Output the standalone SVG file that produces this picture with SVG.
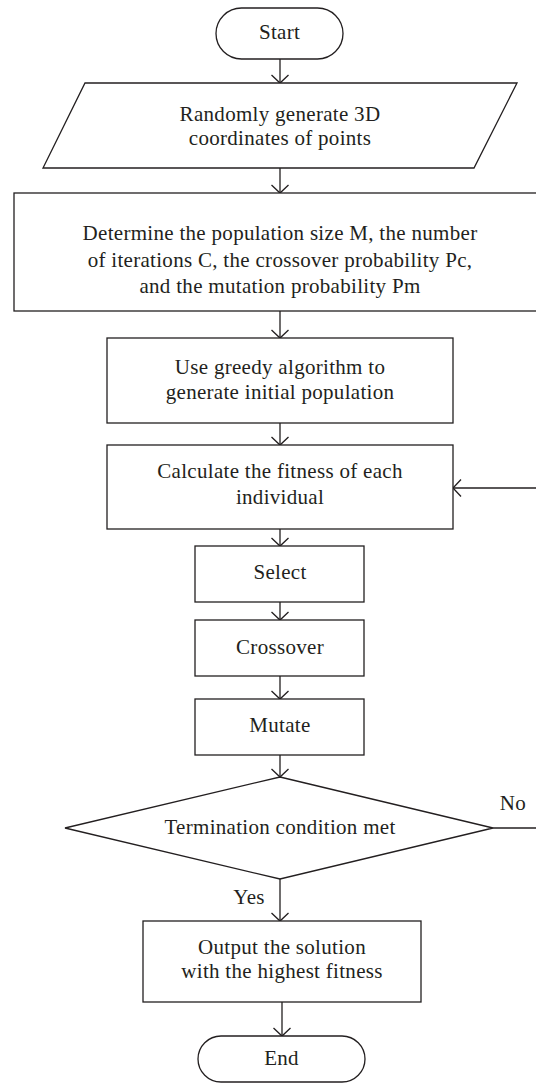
<svg xmlns="http://www.w3.org/2000/svg" width="536" height="1083" viewBox="0 0 536 1083">
<defs>
<style>
.n{fill:#fff;stroke:#231f20;stroke-width:1.3}
.t{font-family:"Liberation Serif","Times New Roman",serif;font-size:21px;letter-spacing:0.3px;fill:#231f20;text-anchor:middle}
.c{fill:none;stroke:#231f20;stroke-width:1.3}
</style>
<marker id="a" viewBox="-10 -10 12 20" markerWidth="12" markerHeight="20" refX="0" refY="0" markerUnits="userSpaceOnUse" orient="auto">
<path d="M-8,-8.5 L0,0 L-8,8.5" fill="none" stroke="#231f20" stroke-width="1.3"/>
</marker>
</defs>
<rect width="536" height="1083" fill="#fff"/>
<g id="connectors">
<line class="c" x1="280" y1="59" x2="280" y2="83" marker-end="url(#a)"/>
<line class="c" x1="280" y1="168" x2="280" y2="193" marker-end="url(#a)"/>
<line class="c" x1="280" y1="311" x2="280" y2="338" marker-end="url(#a)"/>
<line class="c" x1="280" y1="423" x2="280" y2="445" marker-end="url(#a)"/>
<line class="c" x1="280" y1="529" x2="280" y2="546" marker-end="url(#a)"/>
<line class="c" x1="280" y1="602" x2="280" y2="620" marker-end="url(#a)"/>
<line class="c" x1="280" y1="676" x2="280" y2="699" marker-end="url(#a)"/>
<line class="c" x1="280" y1="755" x2="280" y2="777" marker-end="url(#a)"/>
<line class="c" x1="280" y1="879" x2="280" y2="921" marker-end="url(#a)"/>
<line class="c" x1="282" y1="1002" x2="282" y2="1036" marker-end="url(#a)"/>
<line class="c" x1="493" y1="828" x2="537" y2="828"/>
<line class="c" x1="537" y1="488" x2="453" y2="488" marker-end="url(#a)"/>
<text class="t" x="513" y="810">No</text>
<text class="t" x="249" y="904">Yes</text>
</g>
<g id="start">
<rect class="n" x="216" y="8" width="127" height="51" rx="25.5"/>
<text class="t" x="279.5" y="39">Start</text>
</g>
<g id="generate">
<polygon class="n" points="85,83 517,83 474,168 43,168"/>
<text class="t" x="280" y="121">Randomly generate 3D</text>
<text class="t" x="280" y="145">coordinates of points</text>
</g>
<g id="params">
<rect class="n" x="14" y="193" width="532" height="118"/>
<text class="t" x="280" y="240">Determine the population size M, the number</text>
<text class="t" x="280" y="267">of iterations C, the crossover probability Pc,</text>
<text class="t" x="280" y="293">and the mutation probability Pm</text>
</g>
<g id="greedy">
<rect class="n" x="107" y="338" width="346" height="85"/>
<text class="t" x="280" y="374">Use greedy algorithm to</text>
<text class="t" x="280" y="399">generate initial population</text>
</g>
<g id="fitness">
<rect class="n" x="107" y="445" width="346" height="84"/>
<text class="t" x="280" y="478">Calculate the fitness of each</text>
<text class="t" x="280" y="504">individual</text>
</g>
<g id="select">
<rect class="n" x="195" y="546" width="169" height="56"/>
<text class="t" x="280" y="579">Select</text>
</g>
<g id="crossover">
<rect class="n" x="195" y="620" width="169" height="56"/>
<text class="t" x="280" y="654">Crossover</text>
</g>
<g id="mutate">
<rect class="n" x="195" y="699" width="169" height="56"/>
<text class="t" x="280" y="732">Mutate</text>
</g>
<g id="decision">
<polygon class="n" points="280,777 493,828 280,879 65,828"/>
<text class="t" x="280" y="834">Termination condition met</text>
</g>
<g id="output">
<rect class="n" x="143" y="921" width="278" height="81"/>
<text class="t" x="282" y="954">Output the solution</text>
<text class="t" x="282" y="978">with the highest fitness</text>
</g>
<g id="end">
<rect class="n" x="198" y="1036" width="167" height="46" rx="23"/>
<text class="t" x="281.5" y="1065">End</text>
</g>
</svg>
